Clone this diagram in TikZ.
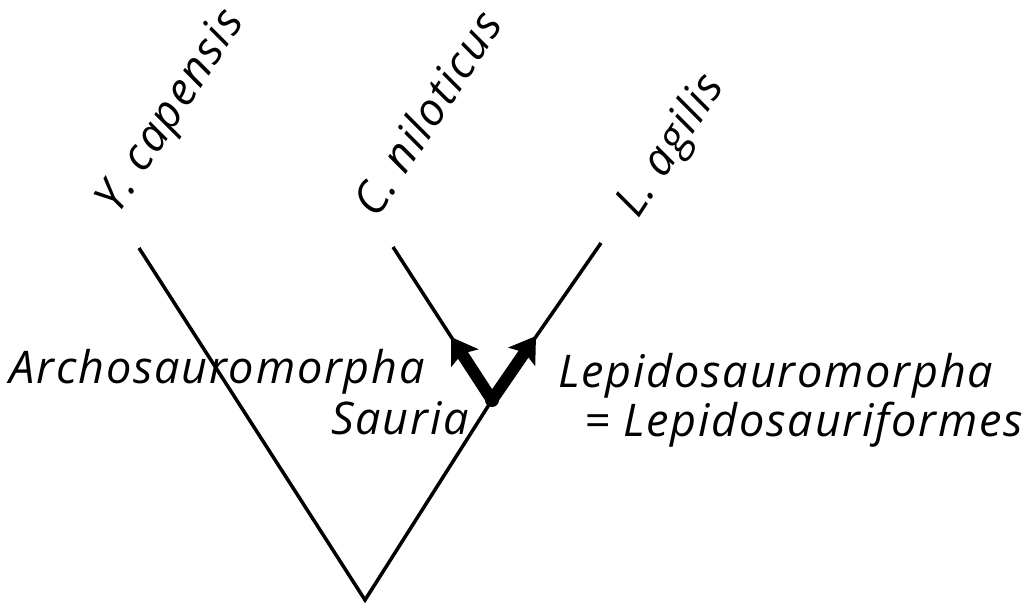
\documentclass[tikz,border=0pt]{standalone}
\usepackage{fontspec}
\setmainfont{Open Sans}[LetterSpace=4]
\usetikzlibrary{arrows.meta}
\begin{document}
\begin{tikzpicture}[x=1pt,y=-1pt,
  branch/.style={line width=3.5pt, line cap=butt},
  bigarrow/.style={line width=12pt, line join=round,
    {Stealth[length=25pt,width=32pt,inset=5pt]}-{Stealth[length=25pt,width=32pt,inset=5pt]}},
  taxon/.style={font=\fontsize{45}{52}\selectfont\itshape, inner sep=0pt, anchor=base west, rotate=57},
  clade/.style={font=\fontsize{45}{52}\selectfont\itshape, inner sep=0pt}]
\useasboundingbox (0,0) rectangle (1032,604);
% tree points
\coordinate (root) at (365,600);
\coordinate (ty) at (139,248);
\coordinate (tc) at (393,247);
\coordinate (tl) at (601,243);
\coordinate (n) at (492,400);
\coordinate (al) at (451,337);
\coordinate (ar) at (536,336);
% branches
\draw[branch] (ty) -- (root) -- (n) -- (tl);
\draw[branch] (n) -- (tc);
% thick arrows
\draw[bigarrow] (al) -- (n) -- (ar);
\fill (n) circle (7pt);
% taxon labels
\node[taxon] (ly) at (118,216) {Y. capensis};
\node[taxon] (lc) at (377,220) {C. niloticus};
\node[taxon] (ll) at (638,220) {L. agilis};
% clade labels
\node[clade, anchor=base east] (arch) at (425,383) {Archosauromorpha};
\node[clade, anchor=base east] (saur) at (469,434) {Sauria};
\node[clade, anchor=base west] (lepi) at (558,387) {Lepidosauromorpha};
\node[clade, anchor=base east] (lepf) at (1023,436) {= Lepidosauriformes};
\end{tikzpicture}
\end{document}
